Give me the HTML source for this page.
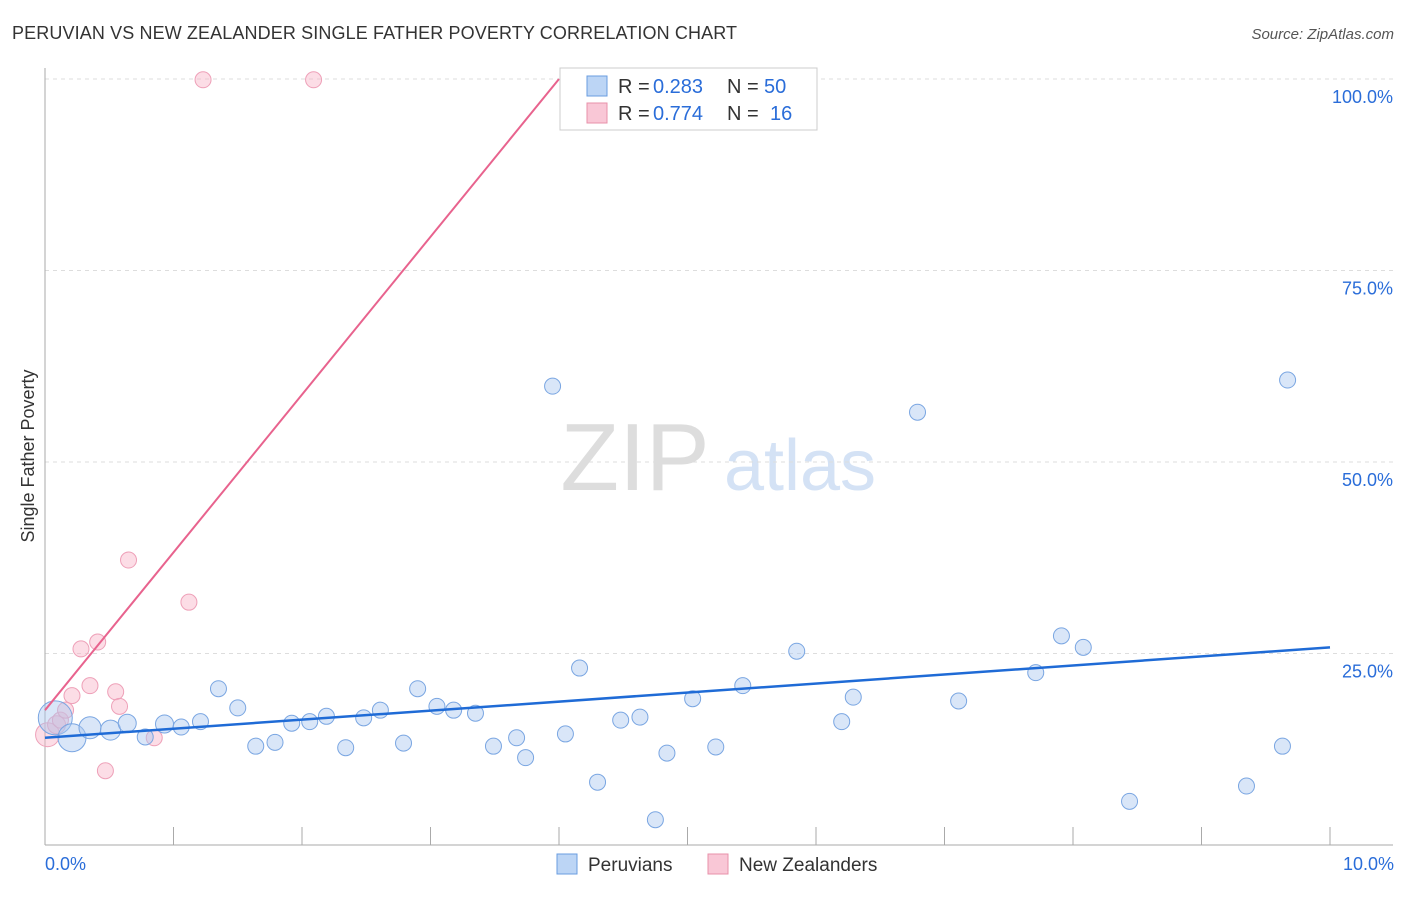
<!DOCTYPE html>
<html><head><meta charset="utf-8"><style>
body{margin:0;background:#fff;font-family:"Liberation Sans",sans-serif;}
svg text{font-family:"Liberation Sans",sans-serif;}
</style></head><body>
<svg id="c" width="1406" height="892">
<text x="12" y="39" font-size="18" fill="#333" textLength="725">PERUVIAN VS NEW ZEALANDER SINGLE FATHER POVERTY CORRELATION CHART</text>
<text x="1394" y="39" font-size="15" fill="#555" font-style="italic" text-anchor="end">Source: ZipAtlas.com</text>
<text transform="translate(34,456) rotate(-90)" font-size="18" fill="#333" text-anchor="middle">Single Father Poverty</text>
<text x="635" y="490" font-size="96" fill="#ddd" font-family="Liberation Serif" text-anchor="middle">ZIP</text>
<text x="800" y="490" font-size="72" fill="#d4e2f5" text-anchor="middle">atlas</text>
<g id="grid"></g><g id="pts"></g><g id="lines"></g>
<g>
<rect x="560" y="68" width="257" height="62" fill="#fff" stroke="#ccc"/>
<rect x="587" y="76" width="20" height="20" fill="#bcd5f5" stroke="#6a9de0"/>
<rect x="587" y="103" width="20" height="20" fill="#f9c7d6" stroke="#e890aa"/>
<text x="618" y="93" font-size="20" fill="#333">R =</text>
<text x="653" y="93" font-size="20" fill="#2a6dd9">0.283</text>
<text x="727" y="93" font-size="20" fill="#333">N =</text>
<text x="764" y="93" font-size="20" fill="#2a6dd9">50</text>
<text x="618" y="120" font-size="20" fill="#333">R =</text>
<text x="653" y="120" font-size="20" fill="#2a6dd9">0.774</text>
<text x="727" y="120" font-size="20" fill="#333">N =</text>
<text x="770" y="120" font-size="20" fill="#2a6dd9">16</text>
</g>
<g>
<rect x="557" y="854" width="20" height="20" fill="#bcd5f5" stroke="#6a9de0"/>
<text x="588" y="871" font-size="19" fill="#333">Peruvians</text>
<rect x="708" y="854" width="20" height="20" fill="#f9c7d6" stroke="#e890aa"/>
<text x="739" y="871" font-size="19" fill="#333">New Zealanders</text>
</g>
</svg>
<script>
const yTicks=[25,50,75,100];
const yTickLabels=["25.0%","50.0%","75.0%","100.0%"];
const xTickLabels=["0.0%","10.0%"];
const blueX=[0.08,0.21,0.35,0.51,0.64,0.78,0.93,1.06,1.21,1.35,1.50,1.64,1.79,1.92,2.06,2.19,2.34,2.48,2.61,2.79,2.90,3.05,3.18,3.35,3.49,3.67,3.74,3.95,4.05,4.16,4.30,4.48,4.63,4.75,4.84,5.04,5.22,5.43,5.85,6.20,6.29,6.79,7.11,7.71,7.91,8.08,8.44,9.35,9.63,9.67];
const blueY=[16.6,14.0,15.3,15.0,15.9,14.1,15.8,15.4,16.1,20.4,17.9,12.9,13.4,15.9,16.1,16.8,12.7,16.6,17.6,13.3,20.4,18.1,17.6,17.2,12.9,14.0,11.4,59.9,14.5,23.1,8.2,16.3,16.7,3.3,12.0,19.1,12.8,20.8,25.3,16.1,19.3,56.5,18.8,22.5,27.3,25.8,5.7,7.7,12.9,60.7];
const blueR=[17,14,11,10,9,8,9,8,8,8,8,8,8,8,8,8,8,8,8,8,8,8,8,8,8,8,8,8,8,8,8,8,8,8,8,8,8,8,8,8,8,8,8,8,8,8,8,8,8,8];
const pinkX=[0.02,0.09,0.12,0.16,0.21,0.28,0.35,0.41,0.47,0.55,0.58,0.65,0.85,1.12,1.23,2.09];
const pinkY=[14.4,15.7,16.3,17.6,19.5,25.6,20.8,26.5,9.7,20.0,18.1,37.2,14.0,31.7,99.9,99.9];
const pinkR=[12,9,8,8,8,8,8,8,8,8,8,8,8,8,8,8];
const blueFit=[14.0,25.8];
const pinkFit=[17.6,20.6];
const NS="http://www.w3.org/2000/svg";
const X=v=>45+v*128.5, Y=v=>845-v*7.66;
function mk(t,a,p){const e=document.createElementNS(NS,t);for(const k in a)e.setAttribute(k,a[k]);p.appendChild(e);return e;}
const grid=document.getElementById('grid');
yTicks.forEach((t,i)=>{
 const l=mk('line',{x1:45,x2:1393,y1:Y(t),y2:Y(t),stroke:'#ddd','stroke-dasharray':'4,4'},grid);
 
 
 const tx=mk('text',{x:1393,y:Y(t)+24,'font-size':18,fill:'#2a6dd9','text-anchor':'end'},grid);
 tx.textContent=yTickLabels[i];
 
 
});
mk('line',{x1:45,x2:45,y1:68,y2:845,stroke:'#aaa'},grid);
mk('line',{x1:45,x2:1393,y1:845,y2:845,stroke:'#aaa'},grid);
for(let i=1;i<=10;i++){mk('line',{x1:X(i),x2:X(i),y1:827,y2:845,stroke:'#aaa'},grid);}
[[0,'start'],[10,'end']].forEach((d,i)=>{
 const tx=mk('text',{x:i?1394:45,y:870,'font-size':18,fill:'#2a6dd9','text-anchor':d[1]},grid);
 tx.textContent=xTickLabels[i];
 
 
});
const pts=document.getElementById('pts');
pinkX.forEach((v,i)=>{
 const c=mk('circle',{cx:X(v),cy:Y(pinkY[i]),r:pinkR[i],fill:'rgba(248,180,200,0.45)',stroke:'#eea0b8','stroke-width':1},pts);
 
 
});
blueX.forEach((v,i)=>{
 const c=mk('circle',{cx:X(v),cy:Y(blueY[i]),r:blueR[i],fill:'rgba(170,200,240,0.45)',stroke:'#7aa6e2','stroke-width':1},pts);
 
 
});
const lines=document.getElementById('lines');
const bl=mk('line',{x1:X(0),y1:Y(blueFit[0]),x2:X(10),y2:Y(blueFit[1]),stroke:'#1f6bd6','stroke-width':2.5},lines);


const xe=(100-pinkFit[0])/pinkFit[1];
const pl=mk('line',{x1:X(0),y1:Y(pinkFit[0]),x2:X(xe),y2:Y(100),stroke:'#e8638e','stroke-width':2},lines);


</script>
</body></html>
